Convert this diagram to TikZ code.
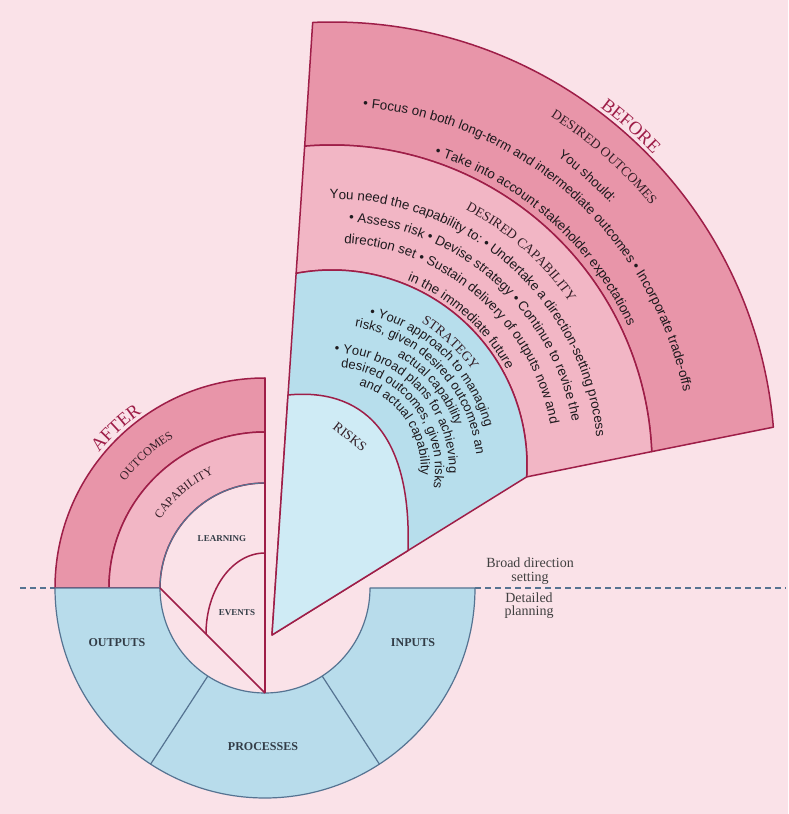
\documentclass[tikz,border=0pt]{standalone}
\usepackage{fontspec}
\setmainfont{Liberation Serif}
\setsansfont{Liberation Sans}
\usetikzlibrary{decorations.text,calc}
\definecolor{bg}{RGB}{250,226,232}
\definecolor{outc}{RGB}{232,149,169}
\definecolor{capc}{RGB}{242,182,197}
\definecolor{strc}{RGB}{183,222,236}
\definecolor{riskc}{RGB}{207,235,245}
\definecolor{ringb}{RGB}{184,220,235}
\definecolor{crim}{RGB}{158,30,72}
\definecolor{bgray}{RGB}{85,115,145}
\definecolor{txt}{RGB}{30,26,30}
\definecolor{ttl}{RGB}{50,30,38}
\definecolor{lbl}{RGB}{50,60,70}
\newcommand\bodyf{\sffamily\fontsize{13.4}{15}\selectfont}
\newcommand\strf{\sffamily\fontsize{13}{15}\selectfont}
\newcommand\bigttl{\rmfamily\fontsize{18.5}{20}\selectfont}
\newcommand\ttlf{\rmfamily\fontsize{13.5}{16}\selectfont}
\newcommand\sttlf{\rmfamily\fontsize{12}{14}\selectfont}
\newcommand\curvetext[6]{%
  \path[decorate,decoration={text along path,text={|#4|#6},text align=center,text color=#5}]
    (#1) ++({#3+80}:#2) arc[start angle={#3+80},end angle={#3-80},radius=#2];}
\begin{document}
\begin{tikzpicture}[x=1pt,y=1pt,
  crimline/.style={draw=crim,line width=1.5pt,line join=round},
  grayline/.style={draw=bgray,line width=1.2pt,line join=round},
  lblnode/.style={font=\rmfamily\bfseries\fontsize{12}{14}\selectfont,text=lbl,inner sep=0pt},
  smallnode/.style={font=\rmfamily\bfseries\fontsize{9}{11}\selectfont,text=lbl,inner sep=0pt},
  sidenote/.style={font=\rmfamily\fontsize{14}{13.5}\selectfont,text=black!75,align=center,inner sep=0pt}]
\useasboundingbox (0,0) rectangle (788,814);
\fill[bg] (0,0) rectangle (788,814);
\coordinate (O) at (332,349);
\coordinate (S) at (332,344);
\coordinate (A) at (265,226);
\coordinate (P) at (272,179);
% dashed division
\coordinate (dL1) at (20,226); \coordinate (dL2) at (56,226);
\coordinate (dR1) at (475,226); \coordinate (dR2) at (786,226);
\draw[bgray,line width=1.1pt,dash pattern=on 6pt off 4pt] (dL1) -- (dL2);
\draw[bgray,line width=1.1pt,dash pattern=on 6pt off 4pt] (dR1) -- (dR2);
% AFTER quadrant
\filldraw[fill=outc,crimline] ($(A)+(180:210)$) arc[start angle=180,end angle=90,radius=210]
  -- ($(A)+(90:156)$) arc[start angle=90,end angle=180,radius=156] -- cycle;
\filldraw[fill=capc,crimline] ($(A)+(180:156)$) arc[start angle=180,end angle=90,radius=156]
  -- ($(A)+(90:105)$) arc[start angle=90,end angle=180,radius=105] -- cycle;
\draw[grayline] ($(A)+(180:105)$) arc[start angle=180,end angle=90,radius=105];
% bottom half ring
\filldraw[fill=ringb,grayline] ($(A)+(180:210)$) arc[start angle=180,end angle=360,radius=210]
  -- ($(A)+(0:105)$) arc[start angle=0,end angle=-180,radius=105] -- cycle;
\draw[grayline] ($(A)+(237:105)$) -- ($(A)+(237:210)$);
\draw[grayline] ($(A)+(303:105)$) -- ($(A)+(303:210)$);
% inner lines
\coordinate (vtop) at ($(A)+(90:210)$);
\coordinate (vbot) at ($(A)+(270:105)$);
\coordinate (dstart) at ($(A)+(180:105)$);
\coordinate (ev1) at (265,261);
\coordinate (ev2) at (206,180);
\draw[crimline] (vtop) -- (vbot);
\draw[crimline] (dstart) -- (vbot);
\draw[crimline] (ev1) .. controls (232.4,261) and (206,224.7) .. (ev2);
% BEFORE fan
\coordinate (oL) at ($(O)+(92.5:443)$);
\coordinate (mL) at ($(O)+(94.9:320)$);
\coordinate (iL) at ($(O)+(100.6:195)$);
\coordinate (oR) at ($(O)+(4.9:443)$);
\coordinate (mR) at ($(O)+(2.4:320)$);
\coordinate (iR) at ($(O)+(-3.5:195)$);
\coordinate (rL) at (288,419);
\coordinate (rR) at (408,263.4);
\filldraw[fill=outc,crimline] (mL) -- (oL) arc[start angle=92.5,end angle=4.9,radius=443]
  -- (mR) arc[start angle=2.4,end angle=94.9,radius=320] -- cycle;
\filldraw[fill=capc,crimline] (iL) -- (mL) arc[start angle=94.9,end angle=2.4,radius=320]
  -- (iR) arc[start angle=-3.5,end angle=100.6,radius=195] -- cycle;
\filldraw[fill=strc,crimline] (P) -- (iL) arc[start angle=100.6,end angle=-3.5,radius=195] -- cycle;
\filldraw[fill=riskc,crimline] (P) -- (rL) .. controls (360,426) and (412,384) .. (rR) -- cycle;
% BEFORE texts
\curvetext{O}{447}{48.6}{\bigttl}{crim}{BEFORE}
\curvetext{O}{411}{48.5}{\ttlf}{ttl}{DESIRED OUTCOMES}
\curvetext{O}{382}{48.5}{\bodyf}{txt}{You should:}
\curvetext{O}{359}{48.4}{\bodyf}{txt}{• Focus on both long-term and intermediate outcomes • Incorporate trade-offs}
\curvetext{O}{327}{48.4}{\bodyf}{txt}{• Take into account stakeholder expectations}
\curvetext{O}{288}{48.4}{\ttlf}{ttl}{DESIRED CAPABILITY}
\curvetext{O}{266}{48.3}{\bodyf}{txt}{You need the capability to: • Undertake a direction-setting process}
\curvetext{O}{244}{48.1}{\bodyf}{txt}{• Assess risk • Devise strategy • Continue to revise the}
\curvetext{O}{222}{48.7}{\bodyf}{txt}{direction set • Sustain delivery of outputs now and}
\curvetext{O}{199}{48.1}{\bodyf}{txt}{in the immediate future}
\curvetext{S}{172}{47}{\ttlf}{ttl}{STRATEGY}
\curvetext{S}{159}{46}{\strf}{txt}{• Your approach to managing}
\curvetext{S}{145}{43.5}{\strf}{txt}{risks, given desired outcomes an}
\curvetext{S}{131}{40}{\strf}{txt}{actual capability}
\curvetext{S}{117}{43.5}{\strf}{txt}{• Your broad plans for achieving}
\curvetext{S}{103}{37.5}{\strf}{txt}{desired outcomes, given risks}
\curvetext{S}{89}{34.5}{\strf}{txt}{and actual capability}
\node[font=\ttlf,text=ttl,rotate=-38,inner sep=0pt] (risks) at (350,377) {RISKS};
% AFTER texts
\curvetext{A}{214}{133}{\bigttl}{crim}{AFTER}
\curvetext{A}{176}{132}{\sttlf}{ttl}{OUTCOMES}
\curvetext{A}{125}{130.4}{\sttlf}{ttl}{CAPABILITY}
% labels
\node[smallnode] (learning) at (222,275) {LEARNING};
\node[smallnode] (events) at (237,201) {EVENTS};
\node[lblnode] (outputs) at (117,171) {OUTPUTS};
\node[lblnode] (processes) at (263,67) {PROCESSES};
\node[lblnode] (inputs) at (413,171) {INPUTS};
\node[sidenote] (broad) at (530,243) {Broad direction\\setting};
\node[sidenote] (detailed) at (529,208.5) {Detailed\\planning};
\end{tikzpicture}
\end{document}
